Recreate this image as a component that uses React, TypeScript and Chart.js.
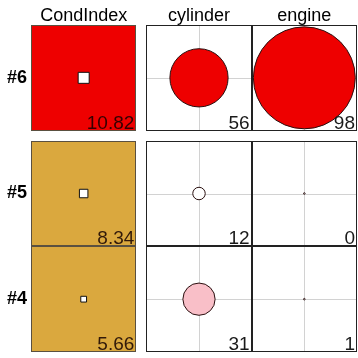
import React, { useEffect, useRef } from 'react';
import { Chart, registerables } from 'chart.js';

Chart.register(...registerables);

// ---- data ----
const columns = ['CondIndex', 'cylinder', 'engine'];
const rows = ['#6', '#5', '#4'];
const condIndex = [10.82, 8.34, 5.66];
const cylinder = [56, 12, 31];
const engine = [98, 0, 1];
const proportions = [cylinder, engine];

// ---- layout helpers (scale units) ----
const GAP = 0.095;
const colStart = (c: number) => c + (c > 0 ? GAP : 0);
const rowStart = (r: number) => {
  const k = rows.length - 1 - r;
  return k + (k >= 2 ? GAP : 0);
};

const RED = '#EE0000';
const GOLD = '#DAA83E';
const PINK = '#F9BFC8';

const condColor = (v: number) => (v >= 10 ? RED : v >= 5 ? GOLD : '#ffffff');
const propColor = (v: number) => (v >= 50 ? RED : v >= 30 ? PINK : '#ffffff');

const FONT = '"Liberation Sans", Arial, sans-serif';

const cellPlugin = {
  id: 'cells',
  beforeDatasetsDraw(chart: any) {
    const { ctx, scales } = chart;
    const x = scales.x, y = scales.y;
    const px = (v: number) => Math.round(x.getPixelForValue(v));
    const py = (v: number) => Math.round(y.getPixelForValue(v));
    ctx.save();
    rows.forEach((_, r) => {
      columns.forEach((__, c) => {
        const x0 = px(colStart(c)), x1 = px(colStart(c) + 1);
        const y0 = py(rowStart(r) + 1), y1 = py(rowStart(r));
        ctx.fillStyle = c === 0 ? condColor(condIndex[r]) : '#ffffff';
        ctx.fillRect(x0, y0, x1 - x0, y1 - y0);
      });
    });
    ctx.strokeStyle = '#d2d2d2';
    ctx.lineWidth = 1;
    rows.forEach((_, r) => {
      for (let c = 1; c < columns.length; c++) {
        const x0 = px(colStart(c)), x1 = px(colStart(c) + 1);
        const y0 = py(rowStart(r) + 1), y1 = py(rowStart(r));
        const cx = px(colStart(c) + 0.5) + 0.5;
        const cy = py(rowStart(r) + 0.5) + 0.5;
        ctx.beginPath();
        ctx.moveTo(cx, y0);
        ctx.lineTo(cx, y1);
        ctx.moveTo(x0, cy);
        ctx.lineTo(x1, cy);
        ctx.stroke();
      }
    });
    rows.forEach((_, r) => {
      columns.forEach((__, c) => {
        const x0 = px(colStart(c)), x1 = px(colStart(c) + 1);
        const y0 = py(rowStart(r) + 1), y1 = py(rowStart(r));
        ctx.strokeStyle = c === 0 ? '#5a5040' : '#222222';
        ctx.strokeRect(x0 + 0.5, y0 + 0.5, x1 - x0 - 1, y1 - y0 - 1);
      });
    });
    ctx.restore();
  },
  afterDatasetsDraw(chart: any) {
    const { ctx, scales } = chart;
    const x = scales.x, y = scales.y;
    ctx.save();
    ctx.font = `19px ${FONT}`;
    ctx.textAlign = 'right';
    ctx.textBaseline = 'alphabetic';
    rows.forEach((_, r) => {
      columns.forEach((__, c) => {
        const x1 = x.getPixelForValue(colStart(c) + 1);
        const y1 = y.getPixelForValue(rowStart(r));
        const txt = c === 0 ? condIndex[r].toFixed(2) : String(proportions[c - 1][r]);
        ctx.fillStyle = c === 0 ? 'rgba(20,0,0,0.85)' : '#1a1a1a';
        ctx.fillText(txt, x1 - 2, y1 - 2);
      });
    });
    ctx.restore();
  },
};

export default function App() {
  const ref = useRef<HTMLCanvasElement | null>(null);
  useEffect(() => {
    if (!ref.current) return;
    const squareData = rows.map((_, r) => ({
      x: colStart(0) + 0.5,
      y: rowStart(r) + 0.5,
      r: condIndex[r] * 0.72,
    }));
    const bubbleData: any[] = [];
    const bubbleColors: string[] = [];
    for (let c = 1; c < columns.length; c++) {
      rows.forEach((_, r) => {
        const v = proportions[c - 1][r];
        bubbleData.push({ x: colStart(c) + 0.5, y: rowStart(r) + 0.5, r: Math.max(v * 0.52, 0.8) });
        bubbleColors.push(propColor(v));
      });
    }
    const colCenters = columns.map((_, c) => colStart(c) + 0.5);
    const rowCenters = rows.map((_, r) => rowStart(r) + 0.5);
    const chart = new Chart(ref.current, {
      type: 'bubble',
      data: {
        datasets: [
          {
            data: bubbleData,
            backgroundColor: bubbleColors,
            borderColor: '#2a1010',
            borderWidth: 1,
            clip: false,
          },
          {
            data: squareData,
            pointStyle: 'rect',
            backgroundColor: '#ffffff',
            borderColor: '#111111',
            borderWidth: 1,
            clip: false,
          },
        ],
      },
      options: {
        animation: false,
        responsive: false,
        devicePixelRatio: 1,
        events: [],
        layout: { autoPadding: false, padding: { left: 0, top: 0, right: 1, bottom: 6 } },
        plugins: { legend: { display: false }, tooltip: { enabled: false } },
        scales: {
          x: {
            type: 'linear',
            position: 'top',
            min: 0,
            max: 3 + GAP,
            grid: { display: false, drawTicks: false },
            border: { display: false },
            afterBuildTicks: (s: any) => {
              s.ticks = colCenters.map((v) => ({ value: v }));
            },
            afterFit: (s: any) => {
              s.height = 25;
              s.paddingLeft = 0;
              s.paddingRight = 0;
            },
            ticks: {
              autoSkip: false,
              maxRotation: 0,
              padding: -2,
              color: '#000',
              font: { family: FONT, size: 18 },
              callback: (_v: any, i: number) => columns[i],
            },
          },
          y: {
            type: 'linear',
            min: 0,
            max: 3 + GAP,
            grid: { display: false, drawTicks: false },
            border: { display: false },
            afterBuildTicks: (s: any) => {
              s.ticks = rowCenters.map((v) => ({ value: v }));
            },
            afterFit: (s: any) => {
              s.width = 31;
              s.paddingTop = 0;
              s.paddingBottom = 0;
            },
            ticks: {
              autoSkip: false,
              padding: 4,
              color: '#000',
              font: { family: FONT, size: 18, weight: 'bold' },
              callback: (_v: any, i: number) => rows[i],
            },
          },
        },
      },
      plugins: [cellPlugin],
    } as any);
    return () => chart.destroy();
  }, []);
  return (
    <div style={{ position: 'absolute', left: 0, top: 0, width: 358, height: 358, background: '#fff' }}>
      <canvas ref={ref} width={358} height={358} />
    </div>
  );
}
